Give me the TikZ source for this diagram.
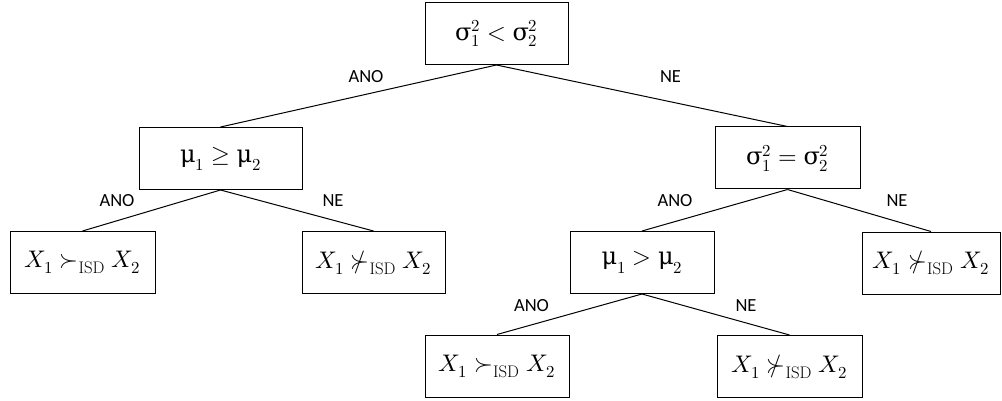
\documentclass[tikz,border=0pt]{standalone}
\usepackage{amsmath,amssymb}
\usepackage{fontspec}
\usepackage{unicode-math}
\setmainfont{Latin Modern Roman}
\setmathfont{Latin Modern Math}
\newfontfamily\lbl{Carlito}
\newfontfamily\gr{DejaVu Serif}
\newcommand{\gsig}{\text{\gr σ}}
\newcommand{\gmu}{\text{\gr μ}}
\begin{document}
\begin{tikzpicture}[x=1pt,y=-1pt,
  box/.style={draw,line width=1pt,minimum height=62pt,inner sep=0pt,font=\fontsize{24}{28}\selectfont},
  edge/.style={line width=1pt},
  lab/.style={font=\lbl\fontsize{18.5}{20}\selectfont,inner sep=0pt}]
\useasboundingbox (0,0) rectangle (1002,401);
\node[box,minimum width=143pt] (root) at (496.5,33.5) {$\gsig_1^2 < \gsig_2^2$};
\node[box,minimum width=163pt] (a) at (220.5,158.5) {$\gmu_1 \geq \gmu_2$};
\node[box,minimum width=145pt] (b) at (787.5,158) {$\gsig_1^2 = \gsig_2^2$};
\node[box,minimum width=145pt] (l1) at (82.5,262.5) {$X_1 \succ_{\mathrm{ISD}} X_2$};
\node[box,minimum width=143pt] (l2) at (373.5,262.5) {$X_1 \nsucc_{\mathrm{ISD}} X_2$};
\node[box,minimum width=144pt] (c) at (642,262.5) {$\gmu_1 > \gmu_2$};
\node[box,minimum width=138pt] (r) at (931,263) {$X_1 \nsucc_{\mathrm{ISD}} X_2$};
\node[box,minimum width=144pt] (d) at (497,366) {$X_1 \succ_{\mathrm{ISD}} X_2$};
\node[box,minimum width=145pt] (e) at (789.5,366.5) {$X_1 \nsucc_{\mathrm{ISD}} X_2$};
\draw[edge] (root.south) -- (a.north);
\draw[edge] (root.south) -- (b.north);
\draw[edge] (a.south) -- (l1.north);
\draw[edge] (a.south) -- (l2.north);
\draw[edge] (b.south) -- (c.north);
\draw[edge] (b.south) -- (r.north);
\draw[edge] (c.south) -- (d.north);
\draw[edge] (c.south) -- (e.north);
\node[lab] (t1) at (366,77) {ANO};
\node[lab] (t2) at (670.5,77) {NE};
\node[lab] (t3) at (117,201) {ANO};
\node[lab] (t4) at (333,201) {NE};
\node[lab] (t5) at (675,201) {ANO};
\node[lab] (t6) at (897,201) {NE};
\node[lab] (t7) at (531.5,305.5) {ANO};
\node[lab] (t8) at (746,305.5) {NE};
\end{tikzpicture}
\end{document}
